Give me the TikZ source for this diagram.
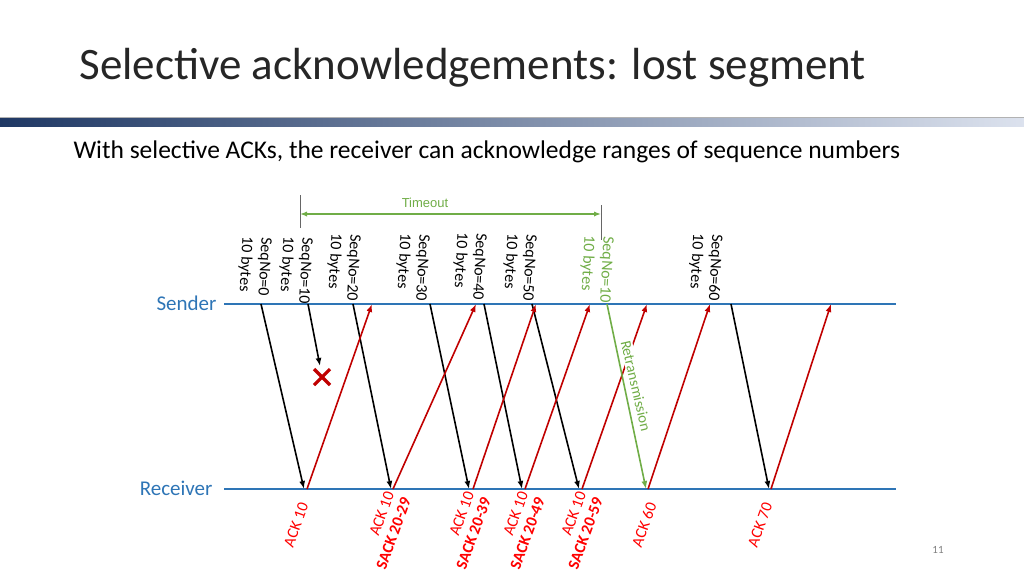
\documentclass[tikz,border=0pt]{standalone}
\usepackage{fontspec}
\setmainfont{Carlito}
\newfontfamily\arialf{Liberation Sans}
\usetikzlibrary{arrows.meta}
\definecolor{lblue}{HTML}{2E75B6}
\definecolor{gr}{HTML}{70AD47}
\definecolor{rd}{HTML}{C00000}
\definecolor{ackred}{HTML}{FF0000}
\tikzset{
 tl/.style={line width=2pt,lblue},
 seg/.style={-{Latex[length=8pt,width=6pt]},line width=1.6pt,black},
 ack/.style={-{Latex[length=8pt,width=6pt]},line width=1.6pt,rd},
 seql/.style={rotate=-93,anchor=west,align=left,font=\fontsize{16}{19}\selectfont,inner sep=0pt},
 ackl/.style={rotate=70,anchor=east,align=right,font=\fontsize{16}{18}\selectfont,text=ackred,inner sep=0pt},
}
\begin{document}
\begin{tikzpicture}[x=1pt,y=-1pt]
\useasboundingbox (0,0) rectangle (1024,576);
\node[anchor=west,font=\fontsize{45}{48}\selectfont,text=black!85] (title) at (76,68) {Selective acknowledgements: lost segment};
\draw[gray!60,line width=0.6pt] (0,117) -- (1024,117);
\shade[left color={rgb,255:red,31;green,56;blue,100},right color={rgb,255:red,220;green,226;blue,238}] (0,118) rectangle (1024,126);
\node[anchor=west,font=\fontsize{25.5}{28}\selectfont] (sub) at (70,152) {With selective ACKs, the receiver can acknowledge ranges of sequence numbers};
% timeout
\draw[gray!80!black,line width=0.8pt] (300,195) -- (300,228);
\draw[gray!80!black,line width=0.8pt] (601,205) -- (601,240);
\coordinate (t1) at (300,214); \coordinate (t2) at (601,214);
\draw[gr,line width=1.6pt,{Latex[length=7pt]}-{Latex[length=7pt]}] (t1) -- (t2);
\node[text=gr,font=\arialf\fontsize{13}{14}\selectfont] (to) at (425,203) {Timeout};
% timelines
\node[anchor=east,text=lblue,font=\fontsize{21}{22}\selectfont] (snd) at (220,303) {Sender};
\node[anchor=east,text=lblue,font=\fontsize{21}{22}\selectfont] (rcv) at (216,488) {Receiver};
\draw[tl] (224,304) -- (896,304);
\draw[tl] (224,489) -- (896,489);
% seq labels
\node[seql] (l0) at (256,237) {SeqNo=0\\10 bytes};
\node[seql] (l1) at (297,237) {SeqNo=10\\10 bytes};
\node[seql] (l2) at (345,234) {SeqNo=20\\10 bytes};
\node[seql] (l3) at (414,234) {SeqNo=30\\10 bytes};
\node[seql] (l4) at (471,233) {SeqNo=40\\10 bytes};
\node[seql] (l5) at (521,234) {SeqNo=50\\10 bytes};
\node[seql,text=gr] (l6) at (598,236) {SeqNo=10\\10 bytes};
\node[seql] (l7) at (707,234) {SeqNo=60\\10 bytes};
% coordinates
\foreach \n/\x in {s0/261,s1/308,s2/353,s3/430,s4/484,s5/532,s6/607,s7/731,
  a0/372,a1/476,a2/536,a3/590,a4/647,a5/710,a6/831}{\coordinate (\n) at (\x,304);}
\foreach \n/\x in {r0/304,r2/391,r3/469,r4/522,r5/579,r6/646,r7/769,
  b0/307,b1/393,b2/473,b3/525,b4/582,b5/648,b6/771}{\coordinate (\n) at (\x,489);}
\coordinate (lost) at (320,366);
\draw[seg] (s0) -- (r0);
\draw[seg] (s1) -- (lost);
\draw[seg] (s2) -- (r2);
\draw[seg] (s3) -- (r3);
\draw[seg] (s4) -- (r4);
\draw[seg] (s5) -- (r5);
\draw[seg] (s7) -- (r7);
\foreach \i in {0,...,6}{\draw[ack] (b\i) -- (a\i);}
\draw[seg,gr] (s6) -- (r6);
\node[rotate=-77,text=gr,fill=white,inner sep=1pt,font=\fontsize{15}{16}\selectfont] (ret) at (636,386) {Retransmission};
% X
\coordinate (xc) at (322,377);
\draw[rd,line width=3.2pt] ([shift={(-8,-8)}]xc) -- ([shift={(8,8)}]xc);
\draw[rd,line width=3.2pt] ([shift={(-8,8)}]xc) -- ([shift={(8,-8)}]xc);
% ack labels
\node[ackl] (k0) at (304,503) {ACK 10};
\node[ackl] (k1) at (398,495) {ACK 10\\\textbf{SACK 20-29}};
\node[ackl] (k2) at (478,495) {ACK 10\\\textbf{SACK 20-39}};
\node[ackl] (k3) at (532,495) {ACK 10\\\textbf{SACK 20-49}};
\node[ackl] (k4) at (590,495) {ACK 10\\\textbf{SACK 20-59}};
\node[ackl] (k5) at (652,503) {ACK 60};
\node[ackl] (k6) at (768,503) {ACK 70};
\node[text=gray,font=\fontsize{11}{12}\selectfont] (pg) at (938,550) {11};
\end{tikzpicture}
\end{document}
